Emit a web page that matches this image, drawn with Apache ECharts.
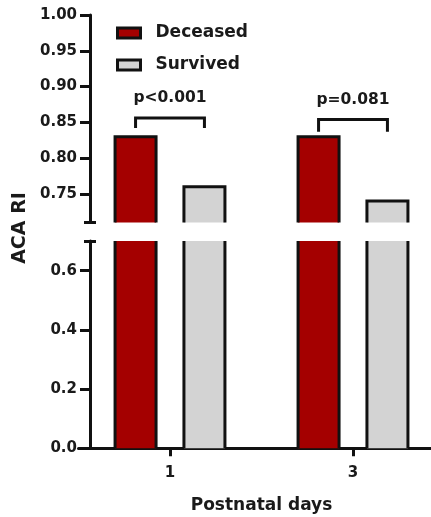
<!DOCTYPE html>
<html>
<head>
<meta charset="utf-8">
<script src="https://cdn.jsdelivr.net/npm/echarts@6/dist/echarts.min.js"></script>
<style>
html,body{margin:0;padding:0;background:#fff;}
#chart{width:431px;height:517px;}
</style>
</head>
<body>
<div id="chart"></div>
<script>
const categories = ['1', '3'];
const deceased = [0.83, 0.83];
const survived = [0.76, 0.74];
const pLabels = ['p<0.001', 'p=0.081'];
const bracketTop = [0.856, 0.854];
const bracketBottom = [0.842, 0.837];
const upperTicks = [0.75, 0.80, 0.85, 0.90, 0.95, 1.00];
const lowerTicks = [0, 0.2, 0.4, 0.6];
const upperRange = [0.71, 1.0];
const lowerRange = [0, 0.7];

const FONT = 'DejaVu Sans';
const TXT = '#1a1a1a';
const LINE = '#111';
const RED = '#a40000';
const GREY = '#d3d3d3';
const BAR_W = 41;
const GAP = 0.68;

const chart = echarts.init(document.getElementById('chart'), null, {renderer: 'canvas'});

function barSeries(name, data, color, idx) {
  return {
    name: name, type: 'bar', data: data,
    xAxisIndex: idx, yAxisIndex: idx,
    barWidth: BAR_W, barGap: (GAP * 100) + '%',
    clip: true,
    itemStyle: {color: color, borderWidth: 0},
    emphasis: {disabled: true}
  };
}

// outline of the bars, drawn only on the visible sides of each (clipped) bar
function outlineSeries(idx) {
  const data = [];
  categories.forEach((c, i) => {
    data.push([i, deceased[i], 0]);
    data.push([i, survived[i], 1]);
  });
  return {
    type: 'custom', xAxisIndex: idx, yAxisIndex: idx, z: 4, silent: true,
    data: data, encode: {x: 0, y: 1},
    renderItem: function (params, api) {
      const cs = params.coordSys;
      const i = api.value(0), v = api.value(1), s = api.value(2);
      const c = api.coord([i, v]);
      const half = BAR_W * (1 + GAP) / 2;
      const cx = c[0] + (s === 0 ? -half : half);
      const xl = cx - BAR_W / 2, xr = cx + BAR_W / 2;
      const gridTop = cs.y, gridBot = cs.y + cs.height;
      const base = Math.min(api.coord([i, 0])[1], gridBot);
      const style = {stroke: LINE, lineWidth: 3, fill: null, lineJoin: 'miter', lineCap: 'butt'};
      if (c[1] >= gridTop) {
        return {type: 'polyline', shape: {points: [[xl, base], [xl, c[1]], [xr, c[1]], [xr, base]]}, style: style};
      }
      return {type: 'group', children: [
        {type: 'line', shape: {x1: xl, y1: base, x2: xl, y2: gridTop}, style: style},
        {type: 'line', shape: {x1: xr, y1: base, x2: xr, y2: gridTop}, style: style}
      ]};
    }
  };
}

const axisLabelStyle = {color: TXT, fontFamily: FONT, fontWeight: 'bold', fontSize: 15};

chart.setOption({
  animation: false,
  backgroundColor: '#fff',
  legend: {
    data: [
      {name: 'Deceased', itemStyle: {color: RED, borderColor: LINE, borderWidth: 3}},
      {name: 'Survived', itemStyle: {color: GREY, borderColor: LINE, borderWidth: 3}}
    ],
    orient: 'vertical',
    left: 116, top: 23, padding: 0,
    itemWidth: 23, itemHeight: 10, itemGap: 12,
    icon: 'rect',
    textStyle: {color: TXT, fontFamily: FONT, fontWeight: 'bold', fontSize: 17, lineHeight: 20, padding: [0, 0, 0, 10]}
  },
  grid: [
    {left: 78.5, width: 366, top: 15, height: 207.6, outerBoundsMode: 'none', containLabel: false},
    {left: 78.5, width: 366, top: 241, height: 207.3, outerBoundsMode: 'none', containLabel: false}
  ],
  xAxis: [
    {gridIndex: 0, type: 'category', data: categories, show: false},
    {
      gridIndex: 1, type: 'category', data: categories,
      axisLine: {show: true, onZero: false, lineStyle: {color: LINE, width: 3}},
      axisTick: {show: true, alignWithLabel: true, length: 8, lineStyle: {color: LINE, width: 3}},
      axisLabel: Object.assign({margin: 17}, axisLabelStyle),
      name: 'Postnatal days', nameLocation: 'middle', nameGap: 49,
      nameTextStyle: {color: TXT, fontFamily: FONT, fontWeight: 'bold', fontSize: 17}
    }
  ],
  yAxis: [
    {
      gridIndex: 0, type: 'value', position: 'left', offset: -11.5,
      min: upperRange[0], max: upperRange[1],
      axisLine: {show: true, lineStyle: {color: LINE, width: 3}},
      axisTick: {show: true, length: 10, lineStyle: {color: LINE, width: 3}, customValues: upperTicks},
      axisLabel: Object.assign({margin: 13, customValues: upperTicks, formatter: v => v.toFixed(2)}, axisLabelStyle),
      splitLine: {show: false}
    },
    {
      gridIndex: 1, type: 'value', position: 'left', offset: -11.5,
      min: lowerRange[0], max: lowerRange[1],
      axisLine: {show: true, lineStyle: {color: LINE, width: 3}},
      axisTick: {show: true, length: 10, lineStyle: {color: LINE, width: 3}, customValues: lowerTicks},
      axisLabel: Object.assign({margin: 13, customValues: lowerTicks, formatter: v => v.toFixed(1)}, axisLabelStyle),
      splitLine: {show: false}
    },
    {
      gridIndex: 0, type: 'value', position: 'left', offset: -5.5,
      min: upperRange[0], max: upperRange[1],
      axisLine: {show: false}, axisLabel: {show: false}, splitLine: {show: false},
      axisTick: {show: true, inside: true, length: 12, lineStyle: {color: LINE, width: 3}, customValues: [upperRange[0]]}
    },
    {
      gridIndex: 1, type: 'value', position: 'left', offset: -5.5,
      min: lowerRange[0], max: lowerRange[1],
      axisLine: {show: false}, axisLabel: {show: false}, splitLine: {show: false},
      axisTick: {show: true, inside: true, length: 12, lineStyle: {color: LINE, width: 3}, customValues: [lowerRange[1]]}
    }
  ],
  graphic: [{
    type: 'text', x: 20.5, y: 228, rotation: Math.PI / 2,
    style: {text: 'ACA RI', fill: TXT, font: 'bold 19px "DejaVu Sans"', align: 'center', verticalAlign: 'middle'}
  }],
  series: [
    barSeries('Deceased', deceased, RED, 0),
    barSeries('Survived', survived, GREY, 0),
    barSeries('Deceased', deceased, RED, 1),
    barSeries('Survived', survived, GREY, 1),
    outlineSeries(0),
    outlineSeries(1),
    {
      type: 'custom', name: 'sig', xAxisIndex: 0, yAxisIndex: 0, z: 5, silent: true,
      data: categories.map((c, i) => [i, bracketTop[i], bracketBottom[i]]),
      encode: {x: 0, y: 1},
      renderItem: function (params, api) {
        const i = api.value(0);
        const top = api.coord([i, api.value(1)]);
        const bot = api.coord([i, api.value(2)]);
        const half = BAR_W * (1 + GAP) / 2;
        const x1 = top[0] - half, x2 = top[0] + half;
        return {
          type: 'group',
          children: [
            {type: 'polyline', shape: {points: [[x1, bot[1]], [x1, top[1]], [x2, top[1]], [x2, bot[1]]]},
             style: {stroke: LINE, lineWidth: 3, fill: null}},
            {type: 'text', x: top[0], y: top[1] - 20,
             style: {text: pLabels[i], fill: TXT, font: 'bold 15.5px "DejaVu Sans"', align: 'center', verticalAlign: 'middle'}}
          ]
        };
      }
    }
  ]
});
</script>
</body>
</html>
